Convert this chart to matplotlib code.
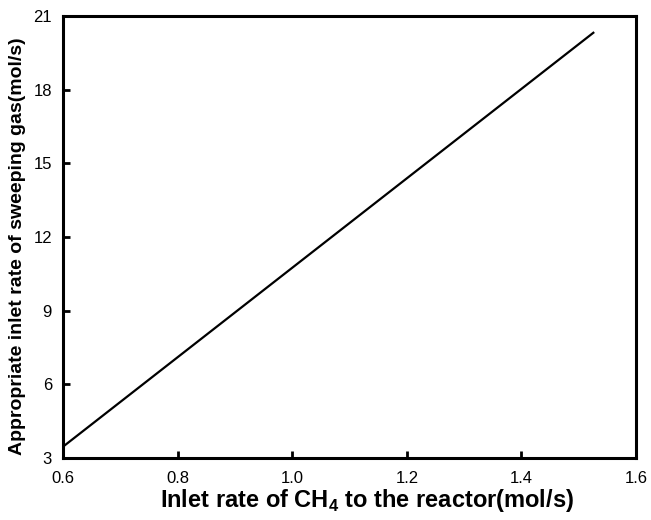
import numpy as np
import matplotlib
matplotlib.use("Agg")
import matplotlib.pyplot as plt

plt.rcParams['font.family'] = ['Liberation Sans', 'DejaVu Sans']
plt.rcParams['mathtext.fontset'] = 'custom'
plt.rcParams['mathtext.bf'] = 'Liberation Sans:bold'
plt.rcParams['mathtext.rm'] = 'Liberation Sans'

# CH4 feed rate vs. required sweeping gas rate
ch4_rate = [0.6, 1.527]
sweep_rate = [3.47, 20.35]

xticks = [0.6, 0.8, 1.0, 1.2, 1.4, 1.6]
yticks = [3, 6, 9, 12, 15, 18, 21]

fig = plt.figure(figsize=(6.51, 5.2), dpi=100)
ax = fig.add_axes([0.097, 0.119, 0.880, 0.850])

ax.plot(ch4_rate, sweep_rate, color='black', lw=1.6, solid_capstyle='butt')

ax.set_xlim(0.6, 1.6)
ax.set_ylim(3, 21)
ax.set_xticks(xticks)
ax.set_xticklabels(['%.1f' % v for v in xticks])
ax.set_yticks(yticks)

for s in ax.spines.values():
    s.set_linewidth(2.2)
ax.tick_params(direction='in', length=5, width=2, labelsize=12,
               top=False, right=False)
ax.tick_params(axis='x', pad=9)
ax.tick_params(axis='y', pad=8)

ax.set_xlabel(r'Inlet rate of CH$_\mathbf{4}$ to the reactor(mol/s)',
              fontsize=17, fontweight='bold')
ax.set_ylabel('Appropriate inlet rate of sweeping gas(mol/s)',
              fontsize=14, fontweight='bold')
ax.xaxis.set_label_coords(0.53, -0.066)
ax.yaxis.set_label_coords(-0.064, 0.48)

fig.savefig('out.png', dpi=100)
